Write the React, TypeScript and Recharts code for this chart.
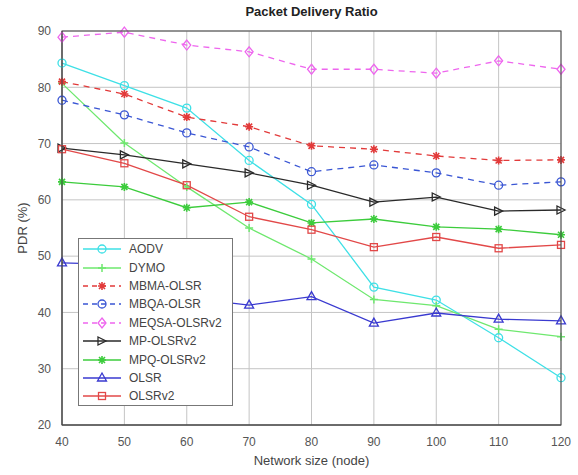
import React from "react";
import {
  LineChart,
  Line,
  XAxis,
  YAxis,
  CartesianGrid,
} from "recharts";

// network sizes (nodes)
const sizes = [40, 50, 60, 70, 80, 90, 100, 110, 120];

// PDR values (%)
const aodv = [84.3, 80.3, 76.3, 67, 59.2, 44.5, 42.2, 35.5, 28.4];
const dymo = [80.7, 70.1, 62.3, 55, 49.5, 42.3, 41.2, 37, 35.7];
const mbmaOlsr = [81, 78.8, 74.7, 73, 69.6, 69, 67.8, 67, 67.1];
const mbqaOlsr = [77.7, 75.1, 71.9, 69.4, 65, 66.2, 64.8, 62.6, 63.2];
const meqsaOlsrv2 = [88.9, 89.8, 87.5, 86.3, 83.2, 83.2, 82.5, 84.7, 83.2];
const mpOlsrv2 = [69.2, 68, 66.4, 64.8, 62.6, 59.6, 60.5, 58, 58.2];
const mpqOlsrv2 = [63.2, 62.3, 58.6, 59.6, 55.9, 56.6, 55.2, 54.8, 53.8];
const olsr = [48.8, 48.5, 42.6, 41.3, 42.8, 38.1, 39.9, 38.8, 38.5];
const olsrv2 = [69, 66.5, 62.6, 57, 54.7, 51.6, 53.4, 51.4, 52];

const yTicks = [20, 30, 40, 50, 60, 70, 80, 90];

type Shape = "circle" | "plus" | "star" | "diamond" | "right" | "up" | "square";

interface Series {
  key: string;
  name: string;
  values: number[];
  color: string;
  dash?: string;
  shape: Shape;
}

const series: Series[] = [
  { key: "aodv", name: "AODV", values: aodv, color: "#3ee0e6", shape: "circle" },
  { key: "dymo", name: "DYMO", values: dymo, color: "#6ee86e", shape: "plus" },
  { key: "mbma", name: "MBMA-OLSR", values: mbmaOlsr, color: "#e23a3a", dash: "6 5", shape: "star" },
  { key: "mbqa", name: "MBQA-OLSR", values: mbqaOlsr, color: "#3a56d4", dash: "6 5", shape: "circle" },
  { key: "meqsa", name: "MEQSA-OLSRv2", values: meqsaOlsrv2, color: "#ee66ee", dash: "6 5", shape: "diamond" },
  { key: "mp", name: "MP-OLSRv2", values: mpOlsrv2, color: "#2a2a2a", shape: "right" },
  { key: "mpq", name: "MPQ-OLSRv2", values: mpqOlsrv2, color: "#3ccc3c", shape: "star" },
  { key: "olsr", name: "OLSR", values: olsr, color: "#3a3ad0", shape: "up" },
  { key: "olsrv2", name: "OLSRv2", values: olsrv2, color: "#e24848", shape: "square" },
];

const data = sizes.map((s, i) => {
  const row: { [k: string]: number } = { size: s };
  series.forEach((sr) => {
    row[sr.key] = sr.values[i];
  });
  return row;
});

const Marker = ({ cx, cy, color, shape }: { cx: number; cy: number; color: string; shape: Shape }) => {
  const r = 4;
  switch (shape) {
    case "circle":
      return <circle cx={cx} cy={cy} r={r} fill="none" stroke={color} strokeWidth={1.3} />;
    case "plus":
      return (
        <path d={`M${cx - r},${cy}H${cx + r}M${cx},${cy - r}V${cy + r}`} stroke={color} strokeWidth={1.5} />
      );
    case "star":
      return (
        <path
          d={`M${cx - r},${cy}H${cx + r}M${cx},${cy - r}V${cy + r}M${cx - 3},${cy - 3}L${cx + 3},${cy + 3}M${cx - 3},${cy + 3}L${cx + 3},${cy - 3}`}
          stroke={color}
          strokeWidth={1.6}
        />
      );
    case "diamond":
      return (
        <path
          d={`M${cx},${cy - 5}L${cx + 4},${cy}L${cx},${cy + 5}L${cx - 4},${cy}Z`}
          fill="none"
          stroke={color}
          strokeWidth={1.3}
        />
      );
    case "right":
      return (
        <path d={`M${cx - 4},${cy - 4}L${cx + 4},${cy}L${cx - 4},${cy + 4}Z`} fill="none" stroke={color} strokeWidth={1.3} />
      );
    case "up":
      return (
        <path d={`M${cx},${cy - 5}L${cx + 4.5},${cy + 3}L${cx - 4.5},${cy + 3}Z`} fill="none" stroke={color} strokeWidth={1.3} />
      );
    case "square":
      return <rect x={cx - 3.5} y={cy - 3.5} width={7} height={7} fill="none" stroke={color} strokeWidth={1.3} />;
  }
  return null;
};

const font = "'Liberation Sans', Arial, sans-serif";

const LegendBox = () => (
  <div
    style={{
      position: "absolute",
      left: 78,
      top: 238,
      width: 155,
      height: 168,
      boxSizing: "border-box",
      background: "#fff",
      border: "1px solid #777",
      fontFamily: font,
      fontSize: 12,
      color: "#444",
      paddingTop: 1,
    }}
  >
    {series.map((s) => (
      <div key={s.key} style={{ height: 18.4, display: "flex", alignItems: "center" }}>
        <svg width={46} height={14} style={{ flex: "none" }}>
          <line x1={4} y1={7} x2={42} y2={7} stroke={s.color} strokeWidth={1.3} strokeDasharray={s.dash ? "5 4" : undefined} />
          <Marker cx={23} cy={7} color={s.color} shape={s.shape} />
        </svg>
        <span style={{ marginLeft: 4 }}>{s.name}</span>
      </div>
    ))}
  </div>
);

const App = () => {
  return (
    <div style={{ position: "absolute", left: 0, top: 0, width: 578, height: 475, background: "#fff" }}>
      <div
        style={{
          position: "absolute",
          left: 62,
          width: 499,
          top: 4,
          textAlign: "center",
          fontFamily: font,
          fontWeight: "bold",
          fontSize: 13,
          color: "#222",
        }}
      >
        Packet Delivery Ratio
      </div>
      <div
        style={{
          position: "absolute",
          left: 62,
          width: 499,
          top: 453,
          textAlign: "center",
          fontFamily: font,
          fontSize: 13,
          color: "#444",
        }}
      >
        Network size (node)
      </div>
      <div
        style={{
          position: "absolute",
          left: 22,
          top: 228,
          transform: "translate(-50%, -50%) rotate(-90deg)",
          fontFamily: font,
          fontSize: 13,
          color: "#444",
          whiteSpace: "nowrap",
        }}
      >
        PDR (%)
      </div>
      <LineChart width={578} height={475} data={data} margin={{ top: 31, right: 17, bottom: 0, left: 0 }}>
        <CartesianGrid stroke="#c4c4c4" strokeWidth={1} />
        <XAxis
          dataKey="size"
          type="number"
          domain={[40, 120]}
          ticks={sizes}
          height={50}
          stroke="#444"
          tickLine={false}
          tick={{ fontSize: 12, fill: "#555", fontFamily: font }}
          tickMargin={6}
        />
        <YAxis
          type="number"
          domain={[20, 90]}
          ticks={yTicks}
          width={62}
          stroke="#444"
          tickLine={false}
          tick={{ fontSize: 12, fill: "#555", fontFamily: font }}
          tickMargin={5}
        />
        {series.map((s) => (
          <Line
            key={s.key}
            dataKey={s.key}
            name={s.name}
            stroke={s.color}
            strokeWidth={1.3}
            strokeDasharray={s.dash}
            isAnimationActive={false}
            dot={(p: any) => <Marker key={`${s.key}-${p.index}`} cx={p.cx} cy={p.cy} color={s.color} shape={s.shape} />}
            activeDot={false}
          />
        ))}
      </LineChart>
      <svg
        width={578}
        height={475}
        style={{ position: "absolute", left: 0, top: 0, pointerEvents: "none" }}
      >
        <rect x={62} y={31} width={499} height={394} fill="none" stroke="#444" strokeWidth={1} />
      </svg>
      <LegendBox />
    </div>
  );
};

export default App;
